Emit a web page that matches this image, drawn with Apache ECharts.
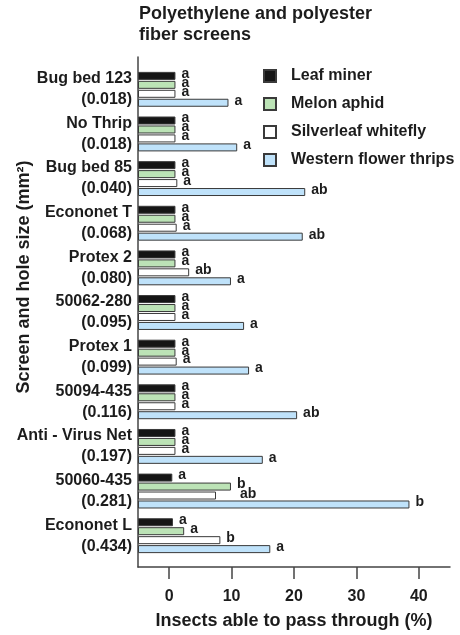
<!DOCTYPE html>
<html>
<head>
<meta charset="utf-8">
<script src="https://cdn.jsdelivr.net/npm/echarts@6/dist/echarts.min.js"></script>
<style>
  html, body { margin: 0; background: #fff; }
  #chart { width: 460px; height: 635px; }
</style>
</head>
<body>
<div id="chart"></div>
<script>
const screens   = ['Bug bed 123', 'No Thrip', 'Bug bed 85', 'Econonet T', 'Protex 2', '50062-280',
                   'Protex 1', '50094-435', 'Anti - Virus Net', '50060-435', 'Econonet L'];
const holeSizes = ['0.018', '0.018', '0.040', '0.068', '0.080', '0.095', '0.099', '0.116', '0.197', '0.281', '0.434'];

const leafMiner  = [1, 1, 1, 1, 1, 1, 1, 1, 1, 0.5, 0.6];
const melonAphid = [1, 1, 1, 1, 1, 1, 1, 1, 1, 9.9, 2.4];
const whitefly   = [1, 1, 1.3, 1.2, 3.2, 1, 1.2, 1, 1, 7.5, 8.2];
const thrips     = [9.5, 10.9, 21.8, 21.4, 9.9, 12.0, 12.8, 20.5, 15.0, 38.5, 16.2];

const leafMinerLetters  = ['a', 'a', 'a', 'a', 'a', 'a', 'a', 'a', 'a', 'a', 'a'];
const melonAphidLetters = ['a', 'a', 'a', 'a', 'a', 'a', 'a', 'a', 'a', 'b', 'a'];
const whiteflyLetters   = ['a', 'a', 'a', 'a', 'ab', 'a', 'a', 'a', 'a', 'ab', 'b'];
const thripsLetters     = ['a', 'a', 'ab', 'ab', 'a', 'a', 'a', 'ab', 'a', 'b', 'a'];

const xTicks = [0, 10, 20, 30, 40];
const X_MIN = -5, X_MAX = 45;   // bars grow from the left axis line at -5

const FONT = '"Liberation Sans", Arial, sans-serif';
const INK = '#1c1c1c';
const EDGE = '#3a3a3a';

// shift so the library draws bars from the axis line instead of from 0
const shift = v => v - X_MIN;

function makeSeries(name, values, letters, fill) {
    return {
        name,
        type: 'bar',
        xAxisIndex: 0,
        yAxisIndex: 0,
        barWidth: 8,
        barGap: '12%',
        itemStyle: { color: fill, borderColor: EDGE, borderWidth: 1 },
        label: {
            show: true,
            position: 'right',
            distance: 6,
            offset: [0, -2],
            color: INK,
            fontFamily: FONT,
            fontWeight: 'bold',
            fontSize: 14,
            formatter: p => letters[p.dataIndex],
        },
        data: values.map(shift),
    };
}

const series = [
    makeSeries('Leaf miner', leafMiner, leafMinerLetters, '#151515'),
    makeSeries('Melon aphid', melonAphid, melonAphidLetters, '#bce3b6'),
    makeSeries('Silverleaf whitefly', whitefly, whiteflyLetters, '#ffffff'),
    makeSeries('Western flower thrips', thrips, thripsLetters, '#bfe2fa'),
];
// the 'ab' of 50060-435 whitefly sits clear of the melon aphid 'b'
series[2].data[9] = { value: series[2].data[9], label: { offset: [18, -1] } };

const chart = echarts.init(document.getElementById('chart'), null, { renderer: 'canvas' });

const LEFT = 138, WIDTH = 312;

chart.setOption({
    animation: false,
    textStyle: { fontFamily: FONT },
    title: {
        text: 'Polyethylene and polyester\nfiber screens',
        left: 139,
        top: 4,
        padding: 0,
        textStyle: { fontFamily: FONT, fontSize: 18, fontWeight: 'bold', lineHeight: 21, color: INK },
    },
    legend: {
        orient: 'vertical',
        left: 263,
        top: 68,
        padding: 0,
        itemWidth: 12,
        itemHeight: 12,
        itemGap: 12,
        icon: 'rect',
        textStyle: {
            fontFamily: FONT, fontSize: 16, fontWeight: 'bold', color: INK,
            lineHeight: 16, padding: [0, 0, 0, 10],
        },
        data: series.map(s => s.name),
    },
    grid: [
        // bars
        { left: LEFT, width: WIDTH, top: 67, height: 491 },
        // axis frame
        { left: LEFT, width: WIDTH, top: 57, height: 511 },
    ],
    xAxis: [
        {
            gridIndex: 0, type: 'value', min: 0, max: X_MAX - X_MIN,
            show: false, splitLine: { show: false },
        },
        {
            gridIndex: 1, type: 'value', min: 0, max: X_MAX - X_MIN,
            axisLine: { show: true, lineStyle: { color: '#444', width: 1.5 } },
            axisTick: {
                show: true, inside: false, length: 12,
                customValues: xTicks.map(shift),
                lineStyle: { color: '#444', width: 1.5 },
            },
            axisLabel: {
                customValues: xTicks.map(shift),
                formatter: v => String(Math.round(v + X_MIN)),
                margin: 22,
                color: INK, fontFamily: FONT, fontSize: 16, fontWeight: 'bold',
            },
            splitLine: { show: false },
            name: 'Insects able to pass through (%)',
            nameLocation: 'middle',
            nameGap: 45,
            nameTextStyle: { color: INK, fontFamily: FONT, fontSize: 18, fontWeight: 'bold' },
        },
    ],
    yAxis: [
        {
            gridIndex: 0, type: 'category', inverse: true,
            data: screens,
            axisLine: { show: false },
            axisTick: { show: false },
            axisLabel: {
                interval: 0,
                showMinLabel: true,
                showMaxLabel: true,
                hideOverlap: false,
                margin: 6,
                color: INK, fontFamily: FONT, fontSize: 16, fontWeight: 'bold',
                lineHeight: 21, padding: [0, 0, 4, 0],
                formatter: (v, i) => v + '\n(' + holeSizes[i] + ')',
            },
        },
        {
            gridIndex: 1, type: 'value',
            axisLine: { show: true, lineStyle: { color: '#444', width: 1.5 } },
            axisTick: { show: false },
            axisLabel: { show: false },
            splitLine: { show: false },
            name: 'Screen and hole size (mm²)',
            nameLocation: 'middle',
            nameRotate: 90,
            nameGap: 105,
            nameTextStyle: {
                color: INK, fontFamily: FONT, fontSize: 18, fontWeight: 'bold',
                padding: [0, 0, 0, 70],
            },
        },
    ],
    series,
});
</script>
</body>
</html>
